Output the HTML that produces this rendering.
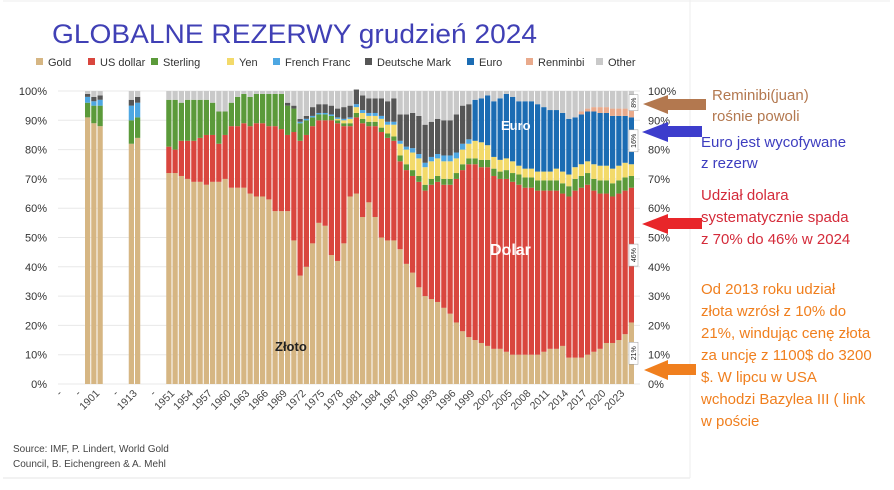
<!DOCTYPE html>
<html><head><meta charset="utf-8"><style>
body{margin:0;background:#fff;width:894px;height:485px;overflow:hidden;font-family:"Liberation Sans","Noto Sans CJK SC",sans-serif}
</style></head><body>
<svg id="chart" width="894" height="485" viewBox="0 0 894 485" xmlns="http://www.w3.org/2000/svg">
<rect x="0" y="0" width="894" height="485" fill="#fff"/>
<line x1="3" y1="1" x2="890" y2="1" stroke="#eee"/>
<line x1="3" y1="478" x2="690" y2="478" stroke="#e6e6e6"/>
<line x1="690" y1="0" x2="690" y2="478" stroke="#eeeeee"/>
<text x="52" y="43" font-size="27" fill="#4040b5" textLength="485" lengthAdjust="spacingAndGlyphs">GLOBALNE REZERWY  grudzień 2024</text>
<g id="legend"></g>
<g id="grid"></g>
<g id="bars"></g>
<g id="xlabels"></g>
<text x="275" y="351" font-size="13" font-weight="bold" fill="#222">Złoto</text>
<text x="490" y="255" font-size="16" font-weight="bold" fill="#fff">Dolar</text>
<text x="501" y="130" font-size="13" font-weight="bold" fill="#fff">Euro</text>
<g id="boxes"></g>
<g>
<polygon points="643,104 668,95 668,99 706,99 706,110 668,110 668,114" fill="#b3784f"/>
<polygon points="642,132 668,122 668,126 702,126 702,137 668,137 668,142" fill="#3d3dcc"/>
<polygon points="642,224 668,214 668,218 702,218 702,229 668,229 668,234" fill="#e8262a"/>
<polygon points="644,370 668,360 668,364 696,364 696,375 668,375 668,380" fill="#f07f1e"/>
</g>
<g font-size="15">
<text x="712" y="100" fill="#b3784f">Reminibi(juan)</text>
<text x="712" y="121" fill="#b3784f">rośnie powoli</text>
<text x="701" y="147" fill="#3d3dbf">Euro jest wycofywane</text>
<text x="701" y="168" fill="#3d3dbf">z rezerw</text>
<text x="701" y="200" fill="#d42b3a">Udział dolara</text>
<text x="701" y="222" fill="#d42b3a">systematycznie spada</text>
<text x="701" y="244" fill="#d42b3a">z 70% do 46% w 2024</text>
<text x="701" y="294" fill="#f07f1e">Od 2013 roku udział</text>
<text x="701" y="316" fill="#f07f1e">złota wzrósł z 10% do</text>
<text x="701" y="338" fill="#f07f1e">21%, windując cenę złota</text>
<text x="701" y="360" fill="#f07f1e">za uncję z 1100$ do 3200</text>
<text x="701" y="382" fill="#f07f1e">$. W lipcu w USA</text>
<text x="701" y="404" fill="#f07f1e">wchodzi Bazylea III ( link</text>
<text x="701" y="426" fill="#f07f1e">w  poście</text>
</g>
<text x="13" y="452" font-size="10" fill="#444">Source: IMF, P. Lindert, World Gold</text>
<text x="13" y="467" font-size="10" fill="#444">Council, B. Eichengreen &amp; A. Mehl</text>
</svg>
<script>
const categories=[null,null,null,null,1899,1900,1901,null,null,null,null,1912,1913,null,null,null,null,
1950,1951,1952,1953,1954,1955,1956,1957,1958,1959,1960,1961,1962,1963,1964,1965,1966,1967,1968,1969,
1970,1971,1972,1973,1974,1975,1976,1977,1978,1979,1980,1981,1982,1983,1984,1985,1986,1987,1988,1989,
1990,1991,1992,1993,1994,1995,1996,1997,1998,1999,2000,2001,2002,2003,2004,2005,2006,2007,2008,2009,
2010,2011,2012,2013,2014,2015,2016,2017,2018,2019,2020,2021,2022,2023,2024];
const seriesNames=["Gold","US dollar","Sterling","Yen","French Franc","Deutsche Mark","Euro","Renminbi","Other"];
const seriesColors=["#d6b683","#d9463e","#5b9a3a","#f3da6a","#4ea7e2","#565656","#1b6cb3","#e9aa8c","#c9c9c9"];
const gold=[91,89,88,82,84,
72,72,71,70,69,69,68,69,69,70, 67,67,67,65,64,64,63,59,59,59, 49,37,40,48,55,54,44,42,48,64,
65,57,62,57,50,49,49,46,41,38, 33,30,29,28,26,24,21,18,16,15, 14,13,12,12,11,10,10,10,10,10,
11,12,12,13,9,9,9,10,11,12, 14,14,15,17,21];
const usDollar=[0,0,0,0,0,
9,8,12,13,14,15,17,16,13,15, 21,21,22,23,25,25,25,29,28,26, 37,46,45,40,35,36,46,47,40,24,
26,32,26,31,36,35,34,30,32,33, 36,36,39,41,42,44,49,55,59,60, 60,61,59,58,59,59,58,57,57,56,
55,54,54,52,55,57,58,58,55,53, 51,50,50,49,46];
const sterling=[5,6,7,8,7,
16,17,13,14,14,13,12,11,11,8, 8,10,10,10,10,10,11,11,12,10, 8,6,5,3,2,2,1.5,1,1,1,
1.5,1.5,1.5,1.5,1.5,1.5,1.5,2,2,2, 2,2,2,2,2,2,2,2,2,2, 2.5,2.5,2.5,2.5,3,3,3.5,3.5,3.5,3.5,
3.5,3.5,3.5,3.5,3.5,4,4,4,4,4.5, 4.5,4.5,4.5,4.5,4];
const yen=[0,0,0,0,0,
0,0,0,0,0,0,0,0,0,0, 0,0,0,0,0,0,0,0,0,0, 0,0,0,0,0,0,0,0.5,1,1.5,
2,2,2,2,3,3,4,4,5,6, 6,6,6,6,6,6,5,5,5,6, 6,5,4,4,4,4,3,3,3,3,
3,3,4,4,4,4,4,4,5,5, 5,5,5,5,4];
const frenchFranc=[2,1.5,2,5,5,
0,0,0,0,0,0,0,0,0,0, 0,0,0,0,0,0,0,0,0,0, 0,0.5,0.5,0.5,0.5,0.5,0.5,0.5,0.5,0.5,
1,1,1,1,1,1,1,1,1,1.5, 1.5,1.5,1.5,1.5,2,2,2,2,1.5,0, 0,0,0,0,0,0,0,0,0,0,
0,0,0,0,0,0,0,0,0,0, 0,0,0,0,0];
const deutscheMark=[1,1.5,1.5,2,2,
0,0,0,0,0,0,0,0,0,0, 0,0,0,0,0,0,0,0,0,1, 1,1,1,3,3,3,3,3,4,4,
5,5,5,5,6,7,8,9,11,12, 13,13,12,12,12,12,13,13,12,0, 0,0,0,0,0,0,0,0,0,0,
0,0,0,0,0,0,0,0,0,0, 0,0,0,0,0];
const euro=[0,0,0,0,0,
0,0,0,0,0,0,0,0,0,0, 0,0,0,0,0,0,0,0,0,0, 0,0,0,0,0,0,0,0,0,0,
0,0,0,0,0,0,0,0,0,0, 0,0,0,0,0,0,0,0,0,14, 15,17,19,21,22,22,22,23,23,23,
22,21,20,20,19,17,17,17,18,18, 18,18,17,16,16];
const renminbi=[0,0,0,0,0,
0,0,0,0,0,0,0,0,0,0, 0,0,0,0,0,0,0,0,0,0, 0,0,0,0,0,0,0,0,0,0,
0,0,0,0,0,0,0,0,0,0, 0,0,0,0,0,0,0,0,0,0, 0,0,0,0,0,0,0,0,0,0,
0,0,0,0,0,0,1,1,1.5,2, 2,2.5,2.5,2.5,2.5];
const yTicks=[0,10,20,30,40,50,60,70,80,90,100];
const boxLabels=["8%","16%","46%","21%"];
const boxValues=[96,83,44,10.5];

const NS="http://www.w3.org/2000/svg";
function mk(t,a,p){const e=document.createElementNS(NS,t);for(const k in a)e.setAttribute(k,a[k]);p.appendChild(e);return e;}
const X0=59.5,SLOT=6.25,Y0=384,Y100=91;
function xs(i){return X0+i*SLOT;}
function ys(v){return Y0-(Y0-Y100)*v/100;}

const lg=document.getElementById('legend');
const lgX=[36,88,151,227,273,365,467,526,596];
seriesNames.forEach((n,i)=>{
 const g=mk('g',{},lg);
 
 
 mk('rect',{x:lgX[i],y:58,width:7,height:7,fill:seriesColors[i]},g);
 const t=mk('text',{x:lgX[i]+12,y:66,'font-size':11,fill:'#333'},g);t.textContent=n;
});
const gr=document.getElementById('grid');
yTicks.forEach(v=>{
 const y=ys(v);
 const l=mk('line',{x1:58,x2:640,y1:y,y2:y,stroke:'#e8e8e8'},gr);
 
 
 const t=mk('text',{x:47,y:y+4,'font-size':11,fill:'#333','text-anchor':'end'},gr);t.textContent=v+'%';
 
 
 const t2=mk('text',{x:648,y:y+4,'font-size':11,fill:'#333'},gr);t2.textContent=v+'%';
 
 
});
const series=[gold,usDollar,sterling,yen,frenchFranc,deutscheMark,euro,renminbi];
const bg=document.getElementById('bars');
let k=0;
categories.forEach((c,i)=>{
 if(c===null)return;
 const g=mk('g',{},bg);
 
 
 let cum=0;
 const vals=series.map(s=>s[k]);
 const sum=vals.reduce((a,b)=>a+b,0);
 vals.push(Math.max(0,100-sum));
 vals.forEach((v,j)=>{
  if(v<=0)return;
  const r=mk('rect',{x:xs(i)+0.5,y:ys(cum+v),width:SLOT-1,height:ys(cum)-ys(cum+v),fill:seriesColors[j]},g);
  
  
  cum+=v;
 });
 k++;
});
const xl=document.getElementById('xlabels');
const i1951=categories.indexOf(1951);
categories.forEach((c,i)=>{
 if(((i-i1951)%3+3)%3!==0)return;
 const cx=xs(i)+SLOT/2, cy=394;
 const t=mk('text',{x:cx,y:cy,'font-size':10.5,fill:'#444','text-anchor':'end',transform:`rotate(-45 ${cx} ${cy})`},xl);
 t.textContent=c===null?'-':String(c);
 
 
});
const bx=document.getElementById('boxes');
boxLabels.forEach((b,i)=>{
 const cy=ys(boxValues[i]);
 const h=b.length*6+4;
 const r=mk('rect',{x:629,y:cy-h/2,width:9,height:h,fill:'#fff',stroke:'#999','stroke-width':0.5},bx);
 
 
 const t=mk('text',{x:633.5,y:cy+2.5,'font-size':7,fill:'#222','text-anchor':'middle',transform:`rotate(-90 633.5 ${cy})`},bx);
 t.textContent=b;
 
 
});
</script>
</body></html>
